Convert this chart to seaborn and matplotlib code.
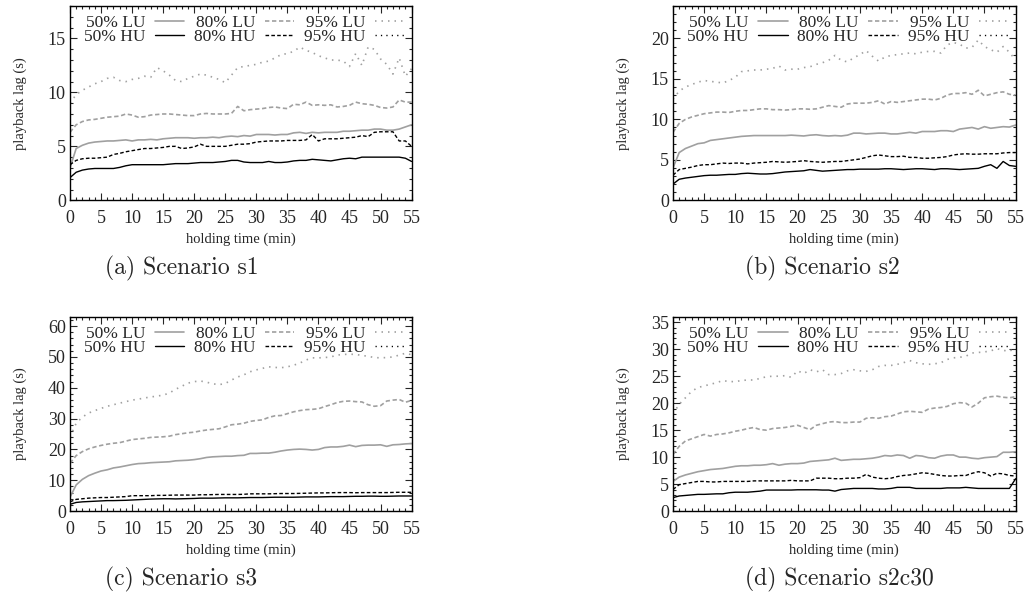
import matplotlib
matplotlib.use("Agg")
import matplotlib.pyplot as plt
import seaborn as sns
from matplotlib.ticker import MultipleLocator

# holding time in minutes
minutes = list(range(0, 56))

# scenario s1
s1_lu50 = [3.0, 4.8, 5.1, 5.3, 5.4, 5.45, 5.5, 5.5, 5.55, 5.6, 5.5, 5.6, 5.6, 5.65, 5.6, 5.7, 5.75, 5.8, 5.8, 5.8,
           5.75, 5.8, 5.8, 5.85, 5.8, 5.9, 5.95, 5.9, 6.0, 5.95, 6.1, 6.1, 6.1, 6.05, 6.1, 6.1, 6.25, 6.3, 6.2, 6.3,
           6.25, 6.3, 6.3, 6.3, 6.4, 6.4, 6.45, 6.5, 6.5, 6.6, 6.6, 6.5, 6.5, 6.6, 6.8, 7.0]
s1_lu80 = [6.3, 7.0, 7.3, 7.45, 7.5, 7.6, 7.7, 7.75, 7.8, 8.0, 7.9, 7.7, 7.75, 7.9, 7.95, 8.0, 8.0, 7.95, 7.9, 7.85,
           7.85, 8.0, 8.05, 8.0, 8.0, 8.0, 8.05, 8.7, 8.3, 8.4, 8.45, 8.5, 8.6, 8.65, 8.55, 8.5, 8.9, 8.85, 9.1, 8.8,
           8.85, 8.8, 8.85, 8.65, 8.7, 8.8, 9.1, 8.95, 8.9, 8.8, 8.6, 8.55, 8.65, 9.3, 9.1, 9.1]
s1_lu95 = [9.0, 9.8, 10.2, 10.5, 10.8, 11.0, 11.3, 11.4, 11.1, 11.0, 11.2, 11.3, 11.5, 11.4, 12.3, 12.0, 11.6, 11.1,
           11.0, 11.3, 11.5, 11.7, 11.6, 11.4, 11.2, 10.9, 11.6, 12.3, 12.4, 12.5, 12.6, 12.8, 12.9, 13.2, 13.5, 13.6,
           13.8, 14.2, 13.9, 13.7, 13.4, 13.2, 13.0, 13.0, 12.9, 12.4, 13.6, 12.5, 14.2, 14.0, 13.1, 12.6, 11.7, 13.2,
           11.5, 12.2]
s1_hu50 = [2.1, 2.6, 2.8, 2.9, 2.95, 2.95, 2.95, 2.95, 3.05, 3.2, 3.3, 3.3, 3.3, 3.3, 3.3, 3.3, 3.35, 3.4, 3.4, 3.4,
           3.45, 3.5, 3.5, 3.5, 3.55, 3.6, 3.7, 3.7, 3.55, 3.5, 3.5, 3.5, 3.6, 3.5, 3.5, 3.55, 3.65, 3.7, 3.7, 3.8,
           3.75, 3.7, 3.65, 3.75, 3.85, 3.9, 3.85, 4.0, 4.0, 4.0, 4.0, 4.0, 4.0, 4.0, 3.9, 3.6]
s1_hu80 = [3.3, 3.7, 3.85, 3.9, 3.9, 3.95, 4.0, 4.25, 4.35, 4.5, 4.6, 4.7, 4.8, 4.8, 4.85, 4.9, 5.0, 5.0, 4.8, 4.85,
           4.95, 5.2, 5.0, 5.0, 5.0, 5.0, 5.1, 5.2, 5.2, 5.25, 5.4, 5.45, 5.5, 5.5, 5.5, 5.55, 5.55, 5.55, 5.6, 6.1,
           5.5, 5.7, 5.7, 5.7, 5.75, 5.8, 5.85, 6.0, 5.9, 6.3, 6.35, 6.35, 6.35, 5.5, 5.5, 5.0]

# scenario s2
s2_lu50 = [4.0, 5.9, 6.4, 6.7, 7.0, 7.1, 7.4, 7.5, 7.6, 7.7, 7.8, 7.9, 7.95, 8.0, 8.0, 8.0, 8.0, 8.0, 8.0, 8.05,
           8.0, 7.95, 8.05, 8.1, 8.0, 7.95, 8.0, 7.95, 8.05, 8.3, 8.3, 8.2, 8.25, 8.3, 8.3, 8.2, 8.2, 8.3, 8.4, 8.3,
           8.5, 8.5, 8.5, 8.6, 8.6, 8.5, 8.8, 8.9, 9.0, 8.8, 9.1, 8.9, 9.0, 9.1, 9.05, 9.3]
s2_lu80 = [8.4, 9.5, 10.0, 10.3, 10.5, 10.7, 10.8, 10.9, 10.9, 10.85, 11.0, 11.1, 11.1, 11.2, 11.3, 11.3, 11.2, 11.2,
           11.15, 11.2, 11.3, 11.3, 11.25, 11.3, 11.5, 11.7, 11.6, 11.5, 11.9, 12.0, 12.0, 12.0, 12.1, 12.3, 11.9,
           12.2, 12.1, 12.2, 12.3, 12.4, 12.5, 12.5, 12.4, 12.6, 13.0, 13.2, 13.2, 13.3, 13.1, 13.6, 12.9, 13.1,
           13.3, 13.4, 13.1, 13.0]
s2_lu95 = [12.5, 13.5, 14.0, 14.3, 14.6, 14.8, 14.7, 14.6, 14.5, 14.8, 15.2, 15.9, 16.0, 16.1, 16.1, 16.2, 16.3,
           16.6, 16.1, 16.2, 16.2, 16.4, 16.5, 16.8, 17.0, 17.3, 17.9, 17.3, 17.1, 17.6, 18.0, 18.5, 17.8, 17.2,
           17.7, 17.9, 18.0, 18.1, 18.2, 18.1, 18.3, 18.4, 18.4, 18.2, 19.2, 19.5, 19.3, 18.8, 18.9, 19.8, 19.0,
           18.6, 18.3, 19.0, 18.3, 17.3]
s2_hu50 = [2.0, 2.6, 2.75, 2.85, 2.95, 3.05, 3.1, 3.1, 3.15, 3.2, 3.2, 3.3, 3.35, 3.3, 3.25, 3.25, 3.3, 3.4, 3.5,
           3.55, 3.6, 3.65, 3.8, 3.7, 3.6, 3.65, 3.7, 3.75, 3.8, 3.8, 3.85, 3.85, 3.85, 3.85, 3.9, 3.9, 3.85, 3.8,
           3.85, 3.9, 3.9, 3.85, 3.8, 3.9, 3.9, 3.85, 3.8, 3.85, 3.9, 3.95, 4.2, 4.4, 3.95, 4.8, 4.3, 4.2]
s2_hu80 = [3.1, 3.8, 3.95, 4.1, 4.3, 4.4, 4.4, 4.5, 4.6, 4.55, 4.6, 4.6, 4.5, 4.6, 4.65, 4.7, 4.8, 4.75, 4.7, 4.75,
           4.8, 4.9, 4.8, 4.75, 4.7, 4.75, 4.8, 4.8, 4.9, 5.0, 5.1, 5.3, 5.5, 5.6, 5.5, 5.4, 5.4, 5.45, 5.3, 5.3,
           5.2, 5.2, 5.25, 5.3, 5.4, 5.6, 5.7, 5.75, 5.7, 5.7, 5.75, 5.75, 5.75, 5.85, 5.9, 5.9]

# scenario s3
s3_lu50 = [4.5, 8.5, 10.3, 11.5, 12.3, 13.0, 13.4, 14.0, 14.3, 14.7, 15.1, 15.4, 15.5, 15.7, 15.8, 15.9, 16.0, 16.3,
           16.4, 16.5, 16.7, 17.0, 17.4, 17.6, 17.7, 17.8, 17.8, 18.0, 18.1, 18.7, 18.7, 18.8, 18.8, 19.1, 19.5,
           19.8, 20.0, 20.1, 20.0, 19.8, 20.0, 20.6, 20.8, 20.8, 21.0, 21.4, 20.9, 21.3, 21.4, 21.4, 21.5, 21.0,
           21.5, 21.6, 21.8, 21.9]
s3_lu80 = [15.5, 18.0, 19.3, 20.2, 20.8, 21.3, 21.7, 22.0, 22.2, 22.7, 23.2, 23.4, 23.6, 23.9, 24.0, 24.1, 24.3,
           24.8, 25.1, 25.4, 25.6, 26.0, 26.3, 26.5, 26.7, 27.3, 28.0, 28.2, 28.5, 29.1, 29.4, 29.6, 30.4, 30.9,
           31.0, 31.6, 32.2, 32.6, 32.9, 33.0, 33.2, 33.9, 34.5, 35.2, 35.6, 35.7, 35.5, 35.4, 34.5, 34.0, 34.2,
           35.7, 36.0, 36.2, 35.3, 35.9]
s3_lu95 = [24.0, 28.5, 30.5, 31.8, 32.6, 33.3, 34.0, 34.5, 35.0, 35.5, 36.0, 36.3, 36.7, 37.0, 37.3, 37.6, 38.3,
           39.5, 40.5, 41.5, 42.0, 42.2, 41.8, 41.3, 41.0, 41.4, 42.5, 43.5, 44.2, 45.2, 45.8, 46.3, 46.8, 46.6,
           46.5, 46.8, 47.3, 48.0, 49.0, 49.7, 49.7, 49.8, 50.0, 50.6, 50.8, 50.9, 50.8, 50.5, 50.2, 49.8, 49.7,
           49.8, 50.0, 50.6, 51.2, 50.7]
s3_hu50 = [2.2, 2.8, 3.0, 3.1, 3.2, 3.3, 3.4, 3.4, 3.45, 3.5, 3.6, 3.7, 3.8, 3.9, 3.95, 4.0, 4.0, 3.95, 4.0, 4.05,
           4.1, 4.2, 4.2, 4.2, 4.25, 4.3, 4.3, 4.3, 4.35, 4.4, 4.4, 4.4, 4.45, 4.5, 4.5, 4.5, 4.5, 4.55, 4.6, 4.6,
           4.6, 4.65, 4.7, 4.7, 4.7, 4.75, 4.8, 4.8, 4.85, 4.85, 4.8, 4.8, 4.85, 4.9, 4.9, 4.9]
s3_hu80 = [3.0, 3.8, 4.0, 4.2, 4.3, 4.4, 4.4, 4.5, 4.6, 4.7, 5.0, 5.0, 5.0, 5.0, 5.1, 5.1, 5.15, 5.2, 5.2, 5.2,
           5.2, 5.3, 5.3, 5.35, 5.4, 5.4, 5.4, 5.4, 5.45, 5.6, 5.6, 5.6, 5.6, 5.65, 5.7, 5.7, 5.7, 5.75, 5.8, 5.85,
           5.9, 5.9, 5.95, 6.0, 6.0, 6.0, 5.95, 6.0, 6.0, 6.0, 6.0, 6.0, 6.05, 6.1, 6.1, 6.1]

# scenario s2c30
s2c30_lu50 = [5.5, 6.3, 6.7, 7.0, 7.3, 7.5, 7.7, 7.8, 7.9, 8.1, 8.3, 8.4, 8.4, 8.5, 8.5, 8.6, 8.8, 8.5, 8.7, 8.8,
              8.8, 8.9, 9.2, 9.3, 9.4, 9.5, 9.8, 9.4, 9.5, 9.6, 9.6, 9.7, 9.8, 10.0, 10.3, 10.2, 10.4, 10.3, 9.8,
              10.3, 10.2, 9.9, 9.8, 10.2, 10.4, 10.4, 10.0, 10.0, 9.8, 9.7, 9.9, 10.0, 10.1, 10.9, 10.9, 11.0]
s2c30_lu80 = [10.5, 12.0, 13.0, 13.4, 13.8, 14.2, 13.9, 14.2, 14.3, 14.5, 14.8, 15.0, 15.3, 15.5, 15.1, 15.0, 15.3,
              15.4, 15.5, 15.7, 15.9, 15.5, 15.1, 15.9, 16.2, 16.5, 16.6, 16.4, 16.4, 16.5, 16.5, 17.2, 17.3, 17.2,
              17.5, 17.6, 18.0, 18.4, 18.5, 18.4, 18.3, 18.9, 19.1, 19.2, 19.4, 19.9, 20.1, 20.0, 19.3, 20.0, 21.0,
              21.2, 21.3, 21.1, 21.0, 21.2]
s2c30_lu95 = [18.0, 19.8, 21.0, 22.2, 22.9, 23.2, 23.5, 23.8, 24.2, 24.0, 24.0, 24.2, 24.3, 24.3, 24.6, 24.9, 25.0,
              25.0, 25.1, 24.8, 26.0, 25.5, 26.2, 25.8, 26.2, 25.3, 25.3, 25.5, 26.0, 26.2, 26.0, 25.9, 26.2, 26.8,
              27.0, 27.0, 27.2, 27.5, 27.9, 27.5, 27.3, 27.2, 27.3, 27.5, 28.1, 28.4, 28.5, 28.7, 29.3, 29.4, 29.5,
              29.7, 30.1, 29.8, 29.6, 30.3]
s2c30_hu50 = [2.5, 2.8, 2.9, 3.0, 3.1, 3.1, 3.15, 3.2, 3.2, 3.4, 3.5, 3.5, 3.5, 3.6, 3.7, 3.9, 3.9, 3.9, 3.9, 3.9,
              3.95, 3.95, 3.95, 3.95, 3.9, 3.9, 3.7, 4.0, 4.1, 4.2, 4.2, 4.2, 4.2, 4.1, 4.1, 4.2, 4.4, 4.4, 4.4, 4.2,
              4.2, 4.2, 4.2, 4.2, 4.3, 4.3, 4.3, 4.4, 4.3, 4.2, 4.2, 4.2, 4.2, 4.2, 4.2, 6.0]
s2c30_hu80 = [4.0, 4.9, 5.1, 5.3, 5.5, 5.5, 5.4, 5.4, 5.5, 5.5, 5.5, 5.5, 5.5, 5.6, 5.6, 5.6, 5.6, 5.6, 5.6, 5.7,
              5.6, 5.6, 5.6, 6.1, 6.1, 6.1, 6.0, 6.0, 6.1, 6.1, 6.2, 6.8, 6.3, 6.1, 6.0, 6.1, 6.4, 6.6, 6.7, 6.9,
              7.1, 7.0, 6.8, 6.6, 6.5, 6.5, 6.6, 6.6, 7.0, 7.3, 7.1, 6.5, 7.0, 6.9, 6.6, 6.5]

captions = ["(a) Scenario s1", "(b) Scenario s2", "(c) Scenario s3", "(d) Scenario s2c30"]
y_limits = [18, 24, 63, 36]
y_major = [5, 5, 10, 5]
y_minor = [1, 1, 2, 1]

panels = [
    (s1_lu50, s1_lu80, s1_lu95, s1_hu50, s1_hu80),
    (s2_lu50, s2_lu80, s2_lu95, s2_hu50, s2_hu80),
    (s3_lu50, s3_lu80, s3_lu95, s3_hu50, s3_hu80),
    (s2c30_lu50, s2c30_lu80, s2c30_lu95, s2c30_hu50, s2c30_hu80),
]

sns.set_theme(style="ticks")
plt.rcParams["font.family"] = ["Liberation Serif", "DejaVu Serif"]
plt.rcParams["axes.linewidth"] = 1.0

GRAY = "#a0a0a0"
BLACK = "#000000"
DASH = (0, (2.6, 1.6))
DOT = (0, (0.9, 3.0))

fig = plt.figure(figsize=(10.29, 6.07), dpi=100)
boxes = [
    [0.068, 0.670, 0.332, 0.320],
    [0.654, 0.670, 0.333, 0.320],
    [0.068, 0.158, 0.332, 0.320],
    [0.654, 0.158, 0.333, 0.320],
]
caption_pos = [(0.102, 0.558), (0.724, 0.558), (0.102, 0.046), (0.724, 0.046)]

for i, (lu50, lu80, lu95, hu50, hu80) in enumerate(panels):
    ax = fig.add_axes(boxes[i])
    h_lu50 = sns.lineplot(x=minutes, y=lu50, ax=ax, color=GRAY, lw=1.2, label="50% LU").lines[-1]
    h_lu80 = sns.lineplot(x=minutes, y=lu80, ax=ax, color=GRAY, lw=1.2, linestyle=DASH, label="80% LU").lines[-1]
    h_lu95 = sns.lineplot(x=minutes, y=lu95, ax=ax, color=GRAY, lw=1.2, linestyle=DOT, label="95% LU").lines[-1]
    h_hu50 = sns.lineplot(x=minutes, y=hu50, ax=ax, color=BLACK, lw=1.0, label="50% HU").lines[-1]
    h_hu80 = sns.lineplot(x=minutes, y=hu80, ax=ax, color=BLACK, lw=1.0, linestyle=DASH, label="80% HU").lines[-1]
    # 95% HU has no visible curve in the plot range, only a legend entry
    h_hu95, = ax.plot([], [], color=BLACK, lw=1.0, linestyle=DOT, label="95% HU")

    ax.set_xlim(0, 55)
    ax.set_ylim(0, y_limits[i])
    ax.xaxis.set_major_locator(MultipleLocator(5))
    ax.xaxis.set_minor_locator(MultipleLocator(1))
    ax.yaxis.set_major_locator(MultipleLocator(y_major[i]))
    ax.yaxis.set_minor_locator(MultipleLocator(y_minor[i]))
    ax.tick_params(which="both", direction="in", top=True, right=True, width=0.8, labelsize=13)
    ax.tick_params(axis="x", which="major", pad=7)
    ax.tick_params(axis="y", which="major", pad=3)
    ax.tick_params(which="major", length=5)
    ax.tick_params(which="minor", length=2.5)
    for sp in ax.spines.values():
        sp.set_visible(True)
        sp.set_color("black")

    ax.set_xlabel("holding time (min)", fontsize=10.5, labelpad=4)
    ax.set_ylabel("playback lag (s)", fontsize=10.5, labelpad=15)

    handles = [h_lu50, h_hu50, h_lu80, h_hu80, h_lu95, h_hu95]
    ax.legend(handles=handles, labels=[h.get_label() for h in handles], ncol=3, markerfirst=False,
              loc="upper center", bbox_to_anchor=(0.51, 1.035), frameon=False, fontsize=12.5,
              handlelength=1.7, handletextpad=0.55, columnspacing=0.55, labelspacing=-0.1)

    fig.text(caption_pos[i][0], caption_pos[i][1], captions[i], fontsize=17, family="cmr10", ha="left", va="center")

fig.savefig("out.png", dpi=100)
